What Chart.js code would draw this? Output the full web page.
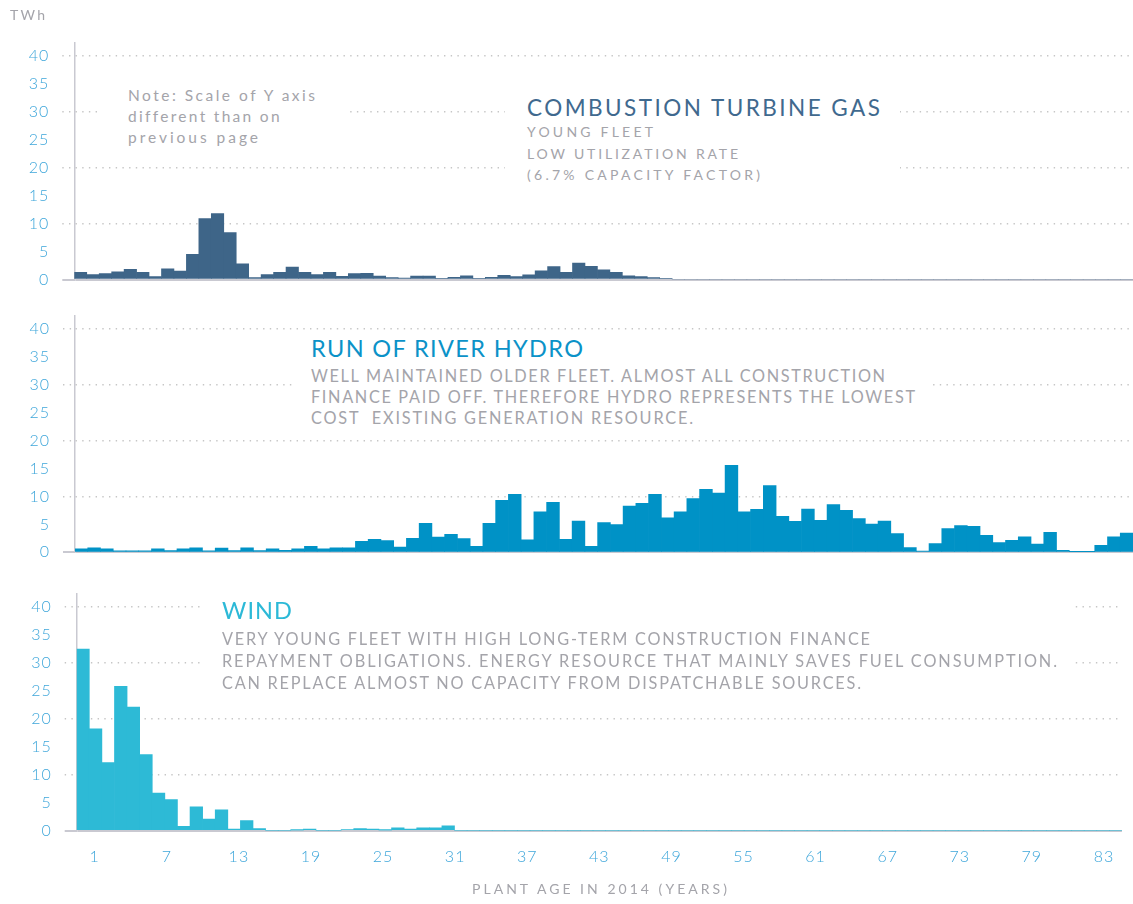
<!DOCTYPE html>
<html><head><meta charset="utf-8">
<script src="https://cdn.jsdelivr.net/npm/chart.js@4.4.1/dist/chart.umd.min.js"></script>
<style>
html,body{margin:0;padding:0;background:#fff;}
body{position:relative;width:1133px;height:904px;overflow:hidden;font-family:'Lato','Open Sans',sans-serif;}
canvas{position:absolute;left:0;}
.mask{position:absolute;background:#fff;}
.t{position:absolute;white-space:pre;margin:0;line-height:1.2;}
</style></head><body>
<canvas id="gas" width="1133" height="304" style="top:0px"></canvas>
<canvas id="hydro" width="1133" height="287" style="top:290px"></canvas>
<canvas id="wind" width="1133" height="338" style="top:566px"></canvas>
<div id="overlay"></div>
<script>
// ---------- DATA ----------
const gasTWh = [1.3,0.9,1.05,1.35,1.8,1.3,0.5,1.9,1.5,4.5,
  10.9,11.8,8.4,2.8,0.35,0.9,1.3,2.2,1.3,0.9,
  1.3,0.55,1.05,1.1,0.6,0.35,0.25,0.6,0.6,0.2,
  0.4,0.65,0.2,0.4,0.75,0.5,0.85,1.55,2.3,1.3,
  2.95,2.35,1.75,1.3,0.65,0.5,0.35,0.2,0,0,
  0,0,0,0,0,0,0,0,0,0,
  0,0,0,0,0,0,0,0,0,0,
  0,0,0,0,0,0,0,0,0,0,
  0,0,0,0,0];
const hydroTWh = [0.6,0.8,0.6,0.25,0.25,0.25,0.6,0.3,0.6,0.8,
  0.25,0.75,0.3,0.8,0.3,0.6,0.35,0.6,1.05,0.6,
  0.8,0.8,1.95,2.3,2.1,0.95,2.5,5.2,2.7,3.2,
  2.45,1.05,5.2,9.3,10.35,2.25,7.25,8.95,2.3,5.6,
  1.05,5.3,4.95,8.25,8.75,10.35,6.15,7.25,9.6,11.25,
  10.6,15.55,7.25,7.7,11.95,6.45,5.55,7.75,5.7,8.55,
  7.5,6.05,5.05,5.6,3.35,0.85,0.2,1.55,4.25,4.8,
  4.65,3.05,1.75,2.15,2.75,1.45,3.55,0.35,0.1,0.1,
  1.25,2.75,3.45];
const windTWh = [32.5,18.2,12.2,25.8,22.1,13.6,6.75,5.55,0.8,4.25,
  2.1,3.75,0.3,1.8,0.4,0,0,0.1,0.3,0,
  0,0.2,0.4,0.3,0.1,0.5,0.3,0.5,0.5,0.85,
  0,0,0,0,0,0,0,0,0,0,
  0,0,0,0,0,0,0,0,0,0,
  0,0,0,0,0,0,0,0,0,0,
  0,0,0,0,0,0,0,0,0,0,
  0,0,0,0,0,0,0,0,0,0,
  0,0,0];
const gasAges = gasTWh.map((_, i) => String(i + 1));
const hydroAges = hydroTWh.map((_, i) => String(i + 1));
const windAges = windTWh.map((_, i) => String(i + 1));
const yTickValues = [0,5,10,15,20,25,30,35,40];
const xTickText = ['1','7','13','19','25','31','37','43','49','55','61','67','73','79','83'];
const xTickSlot = [1,7,13,19,25,31,37,43,49,55,61,67,73,79,85];
const xSlotCount = 87;

// ---------- STYLE ----------
const GREY = '#a4a4aa', TICK = '#3ea6da', AXIS = '#c9c9d1', DOT = '#c6c6c6';
const GAS_C = '#3e6588', HYDRO_C = '#0092c6', WIND_C = '#2dbad6';
const Y_MAX = 42.3;

const xSlotLabels = [];
for (let k = 0; k < xSlotCount; k++) {
  const j = xTickSlot.indexOf(k);
  xSlotLabels.push(j >= 0 ? xTickText[j] : '');
}

const spacingPlugin = { id: 'sp', beforeDraw(chart) { chart.ctx.letterSpacing = '1px'; } };

function yScale(left) {
  const isZero = c => c.tick && c.tick.value === 0;
  const isGrid = c => c.tick && c.tick.value % 10 === 0;
  return {
    min: 0, max: Y_MAX,
    afterBuildTicks: s => { s.ticks = yTickValues.map(v => ({ value: v })); },
    afterFit: s => { s.width = left; },
    grid: {
      color: c => isZero(c) ? AXIS : (isGrid(c) ? DOT : 'rgba(0,0,0,0)'),
      tickColor: c => isZero(c) ? AXIS : (isGrid(c) ? DOT : 'rgba(0,0,0,0)'),
      lineWidth: c => isZero(c) ? 2 : 1.4,
      tickWidth: c => isZero(c) ? 2 : 1.4,
      tickBorderDash: c => isZero(c) ? [] : [1.4, 5.3],
      tickLength: 12, drawTicks: true
    },
    border: { display: true, color: AXIS, width: 1.5, dash: c => isZero(c) ? [] : [1.4, 5.3] },
    ticks: { color: TICK, font: { family: 'Lato', size: 16, weight: 300 }, padding: 13,
             callback: v => String(v) }
  };
}

function makeChart(id, labels, values, color, left, pad, withAxis) {
  const scales = {
    x: { type: 'category', display: false, offset: true, grid: { display: false } },
    y: yScale(left)
  };
  if (withAxis) {
    scales.xt = {
      type: 'category', position: 'bottom', labels: xSlotLabels, offset: true,
      grid: { display: false, drawTicks: false }, border: { display: false },
      afterFit: s => { s.height = withAxis; },
      ticks: { color: TICK, font: { family: 'Lato', size: 16, weight: 300 }, autoSkip: false,
               maxRotation: 0, minRotation: 0, padding: 17,
               callback: function (v) { return this.getLabelForValue(v); } }
    };
  }
  return new Chart(document.getElementById(id), {
    type: 'bar',
    data: { labels, datasets: [{ data: values, backgroundColor: color, borderWidth: 0,
            barPercentage: 1, categoryPercentage: 1, xAxisID: 'x', yAxisID: 'y' }] },
    options: {
      responsive: false, animation: false, events: [],
      layout: { padding: pad },
      plugins: { legend: { display: false }, tooltip: { enabled: false } },
      scales
    },
    plugins: [spacingPlugin]
  });
}

// chart areas: gas 43..279.5, hydro 315.8..552.3, wind 594.2..830.7 (page coordinates)
makeChart('gas', gasAges, gasTWh, GAS_C, 74.3, { top: 43, bottom: 24.5, left: 0, right: 0 }, 0);
makeChart('hydro', hydroAges, hydroTWh, HYDRO_C, 75, { top: 25.8, bottom: 24.7, left: 0, right: 0 }, 0);
makeChart('wind', windAges, windTWh, WIND_C, 76.7, { top: 28.2, bottom: 0, left: 0, right: 0 }, 73.3);

// ---------- ANNOTATIONS ----------
const masks = [
  { x: 100, y: 82, w: 245, h: 68 },
  { x: 505, y: 90, w: 395, h: 100 },
  { x: 293, y: 333, w: 635, h: 96 },
  { x: 200, y: 597, w: 875, h: 98 }
];
const texts = [
  { t: 'TWh', x: 10, cy: 16, f: 14, w: 35, c: GREY },
  { t: 'Note: Scale of Y axis', x: 128, cy: 96, f: 15.5, w: 187, c: GREY },
  { t: 'different than on', x: 128, cy: 117, f: 15.5, w: 151, c: GREY },
  { t: 'previous page', x: 128, cy: 138, f: 15.5, w: 130, c: GREY },
  { t: 'COMBUSTION TURBINE GAS', x: 527, cy: 108, f: 22.5, w: 353, c: '#40698e' },
  { t: 'YOUNG FLEET', x: 527, cy: 133.3, f: 14, w: 126, c: GREY },
  { t: 'LOW UTILIZATION RATE', x: 527, cy: 155, f: 14, w: 211, c: GREY },
  { t: '(6.7% CAPACITY FACTOR)', x: 527, cy: 176, f: 14, w: 233, c: GREY },
  { t: 'RUN OF RIVER HYDRO', x: 311, cy: 349, f: 23.5, w: 272, c: '#0b92c8' },
  { t: 'WELL MAINTAINED OLDER FLEET. ALMOST ALL CONSTRUCTION', x: 311, cy: 376.5, f: 16.3, w: 574, c: GREY },
  { t: 'FINANCE PAID OFF. THEREFORE HYDRO REPRESENTS THE LOWEST', x: 311, cy: 397.5, f: 16.3, w: 604, c: GREY },
  { t: 'COST  EXISTING GENERATION RESOURCE.', x: 311, cy: 418.5, f: 16.3, w: 382, c: GREY },
  { t: 'WIND', x: 222, cy: 611, f: 23.5, w: 70, c: '#2cb9d7' },
  { t: 'VERY YOUNG FLEET WITH HIGH LONG-TERM CONSTRUCTION FINANCE', x: 222, cy: 639, f: 16.3, w: 648, c: GREY },
  { t: 'REPAYMENT OBLIGATIONS. ENERGY RESOURCE THAT MAINLY SAVES FUEL CONSUMPTION.', x: 222, cy: 661, f: 16.3, w: 835, c: GREY },
  { t: 'CAN REPLACE ALMOST NO CAPACITY FROM DISPATCHABLE SOURCES.', x: 222, cy: 683, f: 16.3, w: 639, c: GREY },
  { t: 'PLANT AGE IN 2014 (YEARS)', x: 472, cy: 890, f: 14, w: 255, c: GREY }
];
const ov = document.getElementById('overlay');
masks.forEach(m => {
  const d = document.createElement('div');
  d.className = 'mask';
  Object.assign(d.style, { left: m.x + 'px', top: m.y + 'px', width: m.w + 'px', height: m.h + 'px' });
  ov.appendChild(d);
});
texts.forEach(o => {
  const d = document.createElement('div');
  d.className = 't';
  d.textContent = o.t;
  Object.assign(d.style, { left: o.x + 'px', top: (o.cy - 0.629 * o.f) + 'px', fontSize: o.f + 'px', color: o.c });
  ov.appendChild(d);
  const w0 = d.getBoundingClientRect().width;
  const n = o.t.length;
  d.style.letterSpacing = ((o.w - w0) / (n - 1)) + 'px';
});
</script>
</body></html>
